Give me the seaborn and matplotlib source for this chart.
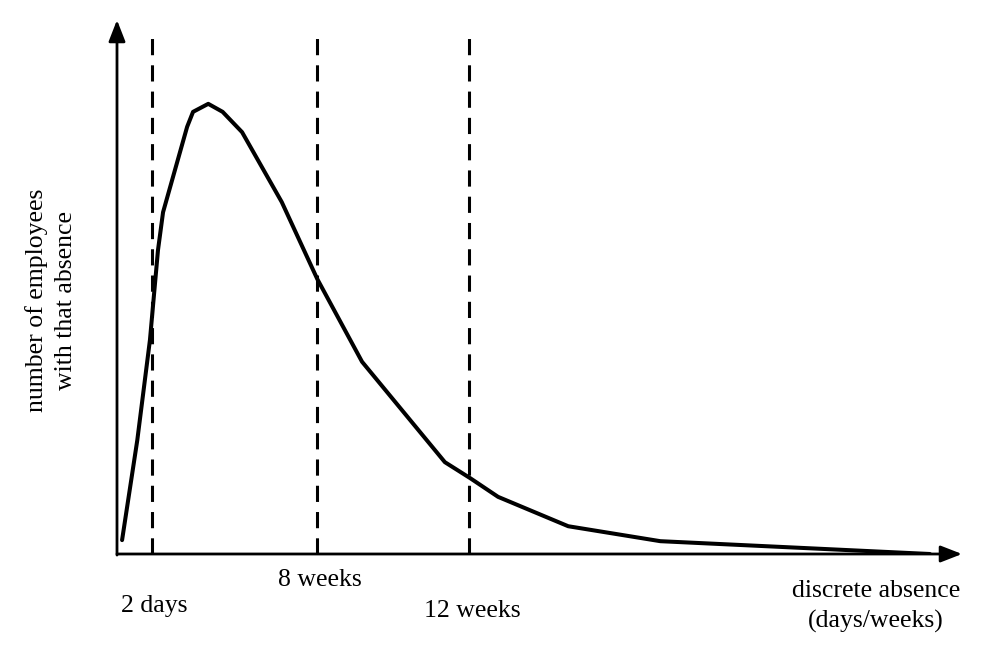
import matplotlib
matplotlib.use('Agg')
import matplotlib.pyplot as plt
import seaborn as sns
import pandas as pd

sns.set_style('white')
plt.rcParams['font.family'] = ['Liberation Serif', 'DejaVu Serif']
plt.rcParams['text.color'] = 'black'

# schematic curve, arbitrary units (x 0-100, y 0-100)
absence = [0.6, 2.4, 3.9, 4.85, 5.45, 8.3, 9.0, 10.8, 12.5, 14.8, 19.5, 23.7,
           29.0, 38.8, 41.8, 45.1, 53.4, 64.3, 96.2]
employees = [2.6, 21.3, 40.1, 56.9, 64.0, 80.0, 82.8, 84.3, 82.8, 79.0, 65.9, 51.5,
             36.0, 17.2, 14.2, 10.7, 5.2, 2.4, 0.0]

cut_x = [4.1, 23.7, 41.7]
cut_labels = ['2 days', '8 weeks', '12 weeks']
cut_label_y = [-9.8, -4.9, -10.6]

df = pd.DataFrame({'absence': absence, 'employees': employees})

fig = plt.figure(figsize=(10, 6.56), dpi=100)
ax = fig.add_axes([0.117, 1 - 554 / 656, 0.845, 534 / 656])

sns.lineplot(data=df, x='absence', y='employees', ax=ax, color='black',
             linewidth=2.9, sort=False)

for x in cut_x:
    ax.plot([x, x], [0, 97.2], color='black', linewidth=2.2,
            linestyle=(0, (5.3, 3.3)), solid_capstyle='butt')

for x, lab, y in zip(cut_x, cut_labels, cut_label_y):
    ax.text(x + 0.3, y, lab, ha='center', va='center', fontsize=18.5,
            color='black', clip_on=False)

ax.text(89.8, -9.9, 'discrete absence\n(days/weeks)', ha='center', va='center',
        fontsize=18.5, linespacing=1.45, color='black', clip_on=False)

# axes with arrow heads
head = '-|>,head_length=1.0,head_width=0.39'
ax.annotate('', xy=(100, 0), xytext=(0, 0), annotation_clip=False,
            arrowprops=dict(arrowstyle=head, color='black', lw=2.0,
                            mutation_scale=13, shrinkA=0, shrinkB=0))
ax.annotate('', xy=(0, 100), xytext=(0, -0.2), annotation_clip=False,
            arrowprops=dict(arrowstyle=head, color='black', lw=2.0,
                            mutation_scale=13, shrinkA=0, shrinkB=0))

ax.set_xlim(0, 100)
ax.set_ylim(0, 100)
ax.set_xticks([])
ax.set_yticks([])
ax.set_xlabel('')
ax.set_ylabel('')
sns.despine(ax=ax, left=True, bottom=True)

fig.text(0.051, 1 - 300 / 656, 'number of employees\nwith that absence',
         rotation=90, ha='center', va='center', fontsize=18.5, linespacing=1.45,
         color='black')

fig.savefig('out.png', dpi=100, facecolor='white')
